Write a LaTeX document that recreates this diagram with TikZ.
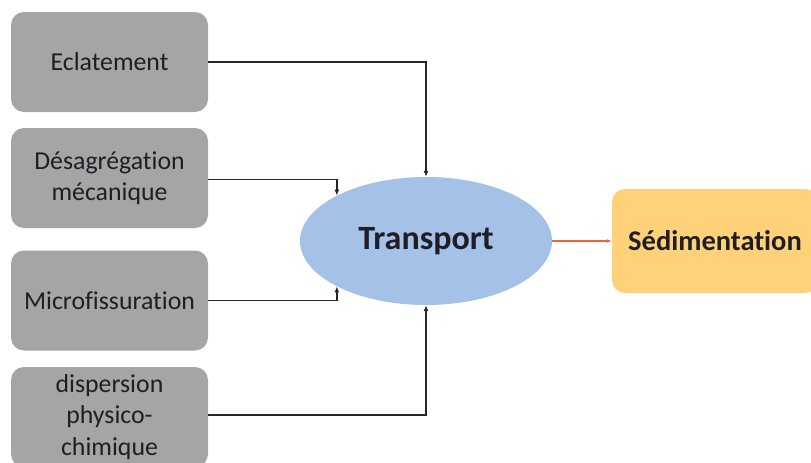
\documentclass[tikz,border=0pt]{standalone}
\usepackage{fontspec}
\setmainfont{Carlito}[Ligatures=NoCommon]
\usetikzlibrary{shapes.geometric,arrows.meta}
\definecolor{boxgray}{HTML}{A5A5A5}
\definecolor{ellblue}{HTML}{A4C2E8}
\definecolor{sedor}{HTML}{FFD27A}
\definecolor{txt}{HTML}{1E1E24}
\definecolor{redarr}{HTML}{F0643C}
\tikzset{
  srcbox/.style={draw=none, fill=boxgray, rounded corners=13pt, minimum width=197pt, minimum height=100pt, inner sep=0pt, align=center, text=txt, font=\fontsize{25.8}{31.5}\selectfont},
  ellnode/.style={ellipse, draw=none, fill=ellblue, minimum width=252pt, minimum height=128pt, inner sep=0pt, text=txt, font=\fontsize{34}{40}\selectfont\bfseries},
  sedbox/.style={draw=none, fill=sedor, rounded corners=13pt, minimum width=206pt, minimum height=104pt, inner sep=0pt, text=txt, font=\fontsize{28.5}{34}\selectfont\bfseries},
  arr/.style={draw=black!85, line width=1.5pt, -{Latex[length=6pt,width=5pt]}},
  redline/.style={draw=redarr, line width=1.1pt, -{Latex[length=5pt,width=4pt]}}
}
\begin{document}
\begin{tikzpicture}[x=1pt,y=-1pt]
\useasboundingbox (0,0) rectangle (811,463);
\clip (0,0) rectangle (811,463);
\node[srcbox] (b1) at (109.5,62) {Eclatement};
\node[srcbox] (b2) at (109.5,178) {Désagrégation\\mécanique};
\node[srcbox] (b3) at (109.5,300.5) {Microfissuration};
\node[srcbox] (b4) at (109.5,417) {dispersion\\physico-\\chimique};
\node[ellnode] (tr) at (426,241) {Transport};
\node[sedbox] (sed) at (715,241) {Sédimentation};
\draw[arr] (b1.east) -| (tr.north);
\draw[arr] ([yshift=-1.5pt]b2.east) -| (tr.153);
\draw[arr] (b3.east) -| (tr.207);
\draw[arr] ([yshift=2pt]b4.east) -| (tr.south);
\draw[redline] (tr.east) -- (sed.west);
\end{tikzpicture}
\end{document}
